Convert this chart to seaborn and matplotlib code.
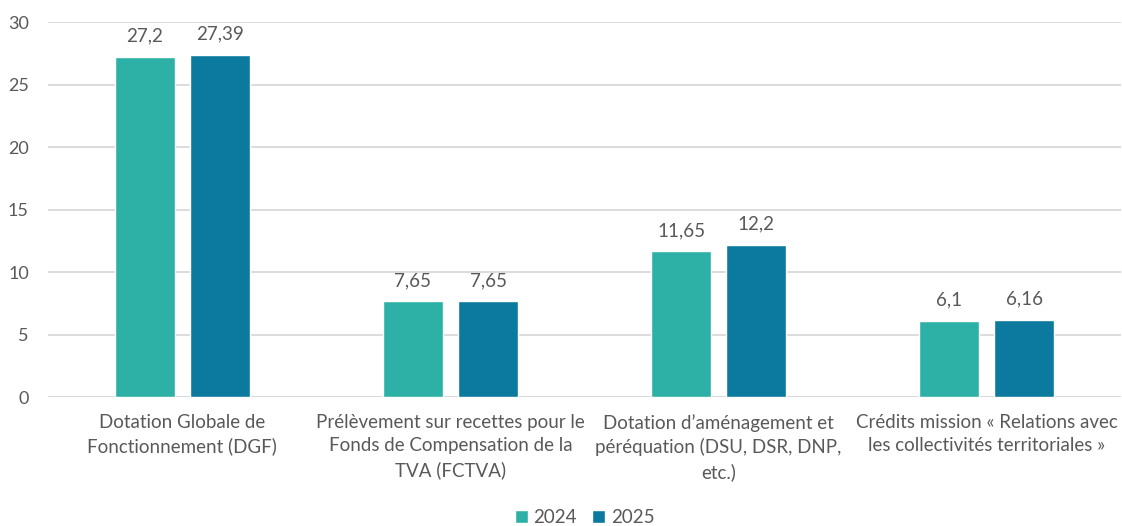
import pandas as pd
import matplotlib
matplotlib.use("Agg")
import matplotlib.pyplot as plt
import seaborn as sns

categories = [
    "Dotation Globale de\nFonctionnement (DGF)",
    "Prélèvement sur recettes pour le\nFonds de Compensation de la\nTVA (FCTVA)",
    "Dotation d’aménagement et\npéréquation (DSU, DSR, DNP,\netc.)",
    "Crédits mission « Relations avec\nles collectivités territoriales »",
]
years = ["2024", "2025"]
values_2024 = [27.2, 7.65, 11.65, 6.1]
values_2025 = [27.39, 7.65, 12.2, 6.16]
labels_2024 = ["27,2", "7,65", "11,65", "6,1"]
labels_2025 = ["27,39", "7,65", "12,2", "6,16"]

data = pd.DataFrame(
    {
        "categorie": categories * 2,
        "annee": [years[0]] * 4 + [years[1]] * 4,
        "valeur": values_2024 + values_2025,
    }
)

sns.set_style("white")
plt.rcParams["font.family"] = ["Lato", "DejaVu Sans"]
text_color = "#595959"

fig = plt.figure(figsize=(11.22, 5.26), dpi=100)
ax = fig.add_axes([0.043, 0.245, 0.956, 0.713])

sns.barplot(
    ax=ax,
    data=data,
    x="categorie",
    y="valeur",
    hue="annee",
    palette=["#2DB0A5", "#0B7A9E"],
    width=0.56,
    gap=0.2,
    saturation=1,
    legend=True,
)

for container, labels in zip(ax.containers, [labels_2024, labels_2025]):
    ax.bar_label(container, labels=labels, padding=9, fontsize=13.5, color=text_color)

ax.set_ylim(0, 30)
ax.set_yticks(range(0, 31, 5))
ax.set_xlim(-0.5, 3.5)
ax.set(xlabel="", ylabel="")
ax.yaxis.grid(True, color="#d9d9d9", linewidth=1.3)
ax.set_axisbelow(True)
for side in ["top", "right", "left", "bottom"]:
    ax.spines[side].set_visible(False)
ax.axhline(0, color="#d9d9d9", linewidth=1.3, zorder=0)
ax.tick_params(axis="y", length=0, labelsize=13, labelcolor=text_color, pad=14)
ax.tick_params(axis="x", length=0, labelsize=13.5, labelcolor=text_color, pad=12)
for lbl in ax.get_xticklabels():
    lbl.set_linespacing(1.45)

ax.legend(
    loc="center",
    bbox_to_anchor=(0.5, -0.32),
    ncol=2,
    frameon=False,
    fontsize=13.5,
    handlelength=0.7,
    handleheight=0.7,
    handletextpad=0.3,
    columnspacing=0.8,
    labelcolor=text_color,
)

fig.savefig("out.png", dpi=100)
